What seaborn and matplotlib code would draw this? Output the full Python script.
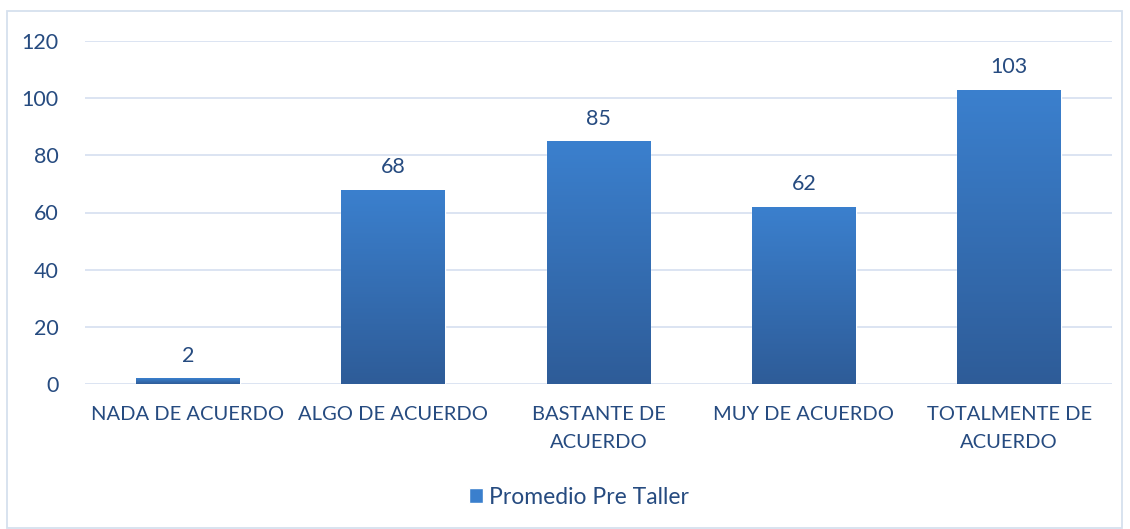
import numpy as np
import pandas as pd
import seaborn as sns
import matplotlib.pyplot as plt
from matplotlib.patches import Rectangle
from matplotlib.colors import LinearSegmentedColormap

categories = ['NADA DE ACUERDO', 'ALGO DE ACUERDO', 'BASTANTE DE\nACUERDO',
              'MUY DE ACUERDO', 'TOTALMENTE DE\nACUERDO']
values = [2, 68, 85, 62, 103]
series_name = 'Promedio Pre Taller'

txt = '#264b80'
grid = '#d9e2f1'

sns.set_style('white')
plt.rcParams['font.family'] = ['Lato', 'DejaVu Sans']

df = pd.DataFrame({'cat': categories, 'val': values})

fig = plt.figure(figsize=(11.3, 5.29), dpi=100)
ax = fig.add_axes([85 / 1130, 1 - 384 / 529, (1112 - 85) / 1130, (384 - 41) / 529])

sns.barplot(data=df, x='cat', y='val', color='#3a7fcd', width=0.505,
            ax=ax, label=series_name, saturation=1, legend=False)
if ax.get_legend() is not None:
    ax.get_legend().remove()

# vertical gradient in each bar
grad = np.linspace(0, 1, 256).reshape(-1, 1)
cmap = LinearSegmentedColormap.from_list('g', ['#2e5c98', '#3b80ce'])
for p in ax.patches:
    x0, y0 = p.get_x(), p.get_y()
    w, h = p.get_width(), p.get_height()
    im = ax.imshow(grad, cmap=cmap, aspect='auto', origin='lower',
                   extent=[x0, x0 + w, y0, y0 + max(h, 1e-6)], zorder=p.get_zorder() + 0.1)
    im.set_clip_path(p)

ax.set_xlim(-0.5, len(categories) - 0.5)
ax.set_ylim(0, 120)
ax.set_yticks(range(0, 121, 20))
ax.grid(axis='y', color=grid, linewidth=1.3)
ax.set_axisbelow(True)
for s in ax.spines.values():
    s.set_visible(False)
ax.set_xlabel('')
ax.set_ylabel('')
ax.tick_params(axis='y', length=0, labelsize=15.5, labelcolor=txt, pad=19)
ax.tick_params(axis='x', length=0, labelsize=14.5, labelcolor=txt, pad=16)
for lbl in ax.get_xticklabels():
    lbl.set_linespacing(1.75)

ax.bar_label(ax.containers[0], labels=[str(v) for v in values],
             padding=9, fontsize=15.5, color=txt)

fig.legend([ax.patches[0]], [series_name], loc='center',
           bbox_to_anchor=(579 / 1130, 1 - 497 / 529),
           frameon=False, fontsize=16.5, labelcolor=txt, handlelength=0.6,
           handleheight=0.6, handletextpad=0.3)

fig.patches.append(Rectangle((7 / 1130, 0.002), (1122 - 7) / 1130, 1 - 11 / 529 - 0.002,
                             transform=fig.transFigure, fill=False,
                             edgecolor='#d6e0ee', linewidth=1.3))

plt.savefig('out.png', dpi=100)
